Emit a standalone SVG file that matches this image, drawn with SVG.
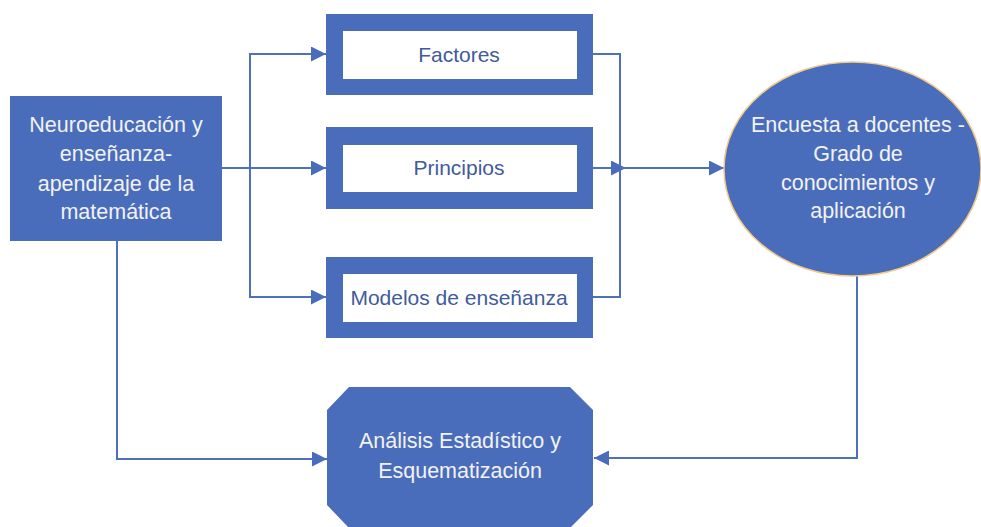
<svg xmlns="http://www.w3.org/2000/svg" width="981" height="527" viewBox="0 0 981 527">
<defs>
<style>
.fill{fill:#4A6DBB;}
.frame{fill:#4A6DBB;}
.inner{fill:#FFFFFF;}
.wt{fill:#F2F2F2;font-family:"Liberation Sans",Arial,sans-serif;font-size:21.5px;text-anchor:middle;}
.bt{fill:#3F5B9C;font-family:"Liberation Sans",Arial,sans-serif;font-size:21px;text-anchor:middle;}
.conn{fill:none;stroke:#4E70BD;stroke-width:2;}
</style>
<marker id="arr" markerUnits="userSpaceOnUse" markerWidth="15" markerHeight="15" refX="15" refY="7.5" orient="auto">
<path d="M0,0 L15,7.5 L0,15 z" fill="#4A6DBB"/>
</marker>
</defs>
<rect width="981" height="527" fill="#FFFFFF"/>
<g id="connectors">
<path class="conn" d="M222,168 H326" marker-end="url(#arr)"/>
<path class="conn" d="M250,168 V54 H326" marker-end="url(#arr)"/>
<path class="conn" d="M250,168 V297 H326" marker-end="url(#arr)"/>
<path class="conn" d="M593,54 H620 V297 H593"/>
<path class="conn" d="M593,168 H626" marker-end="url(#arr)"/>
<path class="conn" d="M620,168 H724" marker-end="url(#arr)"/>
<path class="conn" d="M117,241 V459 H327" marker-end="url(#arr)"/>
<path class="conn" d="M857,276 V458 H594" marker-end="url(#arr)"/>
</g>
<g id="neuroeducacion">
<rect class="fill" x="10" y="96" width="212" height="145"/>
<text class="wt" x="116" y="132">Neuroeducación y</text>
<text class="wt" x="116" y="161">enseñanza-</text>
<text class="wt" x="116" y="191">apendizaje de la</text>
<text class="wt" x="116" y="219">matemática</text>
</g>
<g id="factores">
<rect class="frame" x="326" y="14" width="267" height="81"/>
<rect class="inner" x="343" y="31" width="234" height="48"/>
<text class="bt" x="459" y="62">Factores</text>
</g>
<g id="principios">
<rect class="frame" x="326" y="127" width="267" height="82"/>
<rect class="inner" x="343" y="145" width="234" height="47"/>
<text class="bt" x="459" y="175">Principios</text>
</g>
<g id="modelos">
<rect class="frame" x="326" y="257" width="267" height="81"/>
<rect class="inner" x="343" y="274" width="234" height="48"/>
<text class="bt" x="459" y="305">Modelos de enseñanza</text>
</g>
<g id="encuesta">
<ellipse class="fill" cx="852.5" cy="169" rx="128.5" ry="107" stroke="#F2C98A" stroke-width="1.5"/>
<text class="wt" x="858" y="132">Encuesta a docentes -</text>
<text class="wt" x="858" y="161">Grado de</text>
<text class="wt" x="858" y="190">conocimientos y</text>
<text class="wt" x="858" y="218">aplicación</text>
</g>
<g id="analisis">
<polygon class="fill" points="349,387 570,387 593,410 593,505 570,528 349,528 327,505 327,410"/>
<text class="wt" x="460" y="448">Análisis Estadístico y</text>
<text class="wt" x="460" y="478">Esquematización</text>
</g>
</svg>
